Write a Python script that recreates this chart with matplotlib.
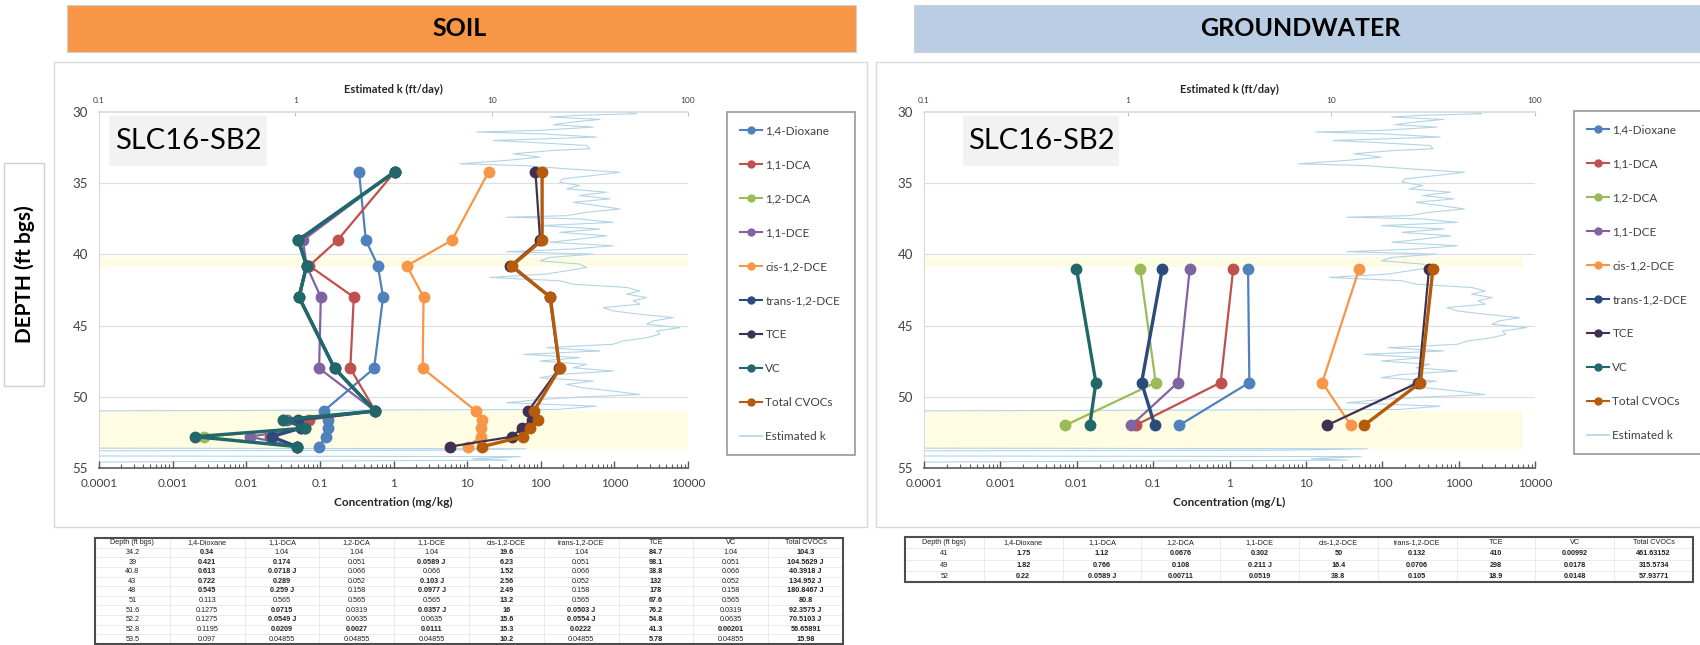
import matplotlib.pyplot as plt
from matplotlib.lines import Line2D
from matplotlib.patches import Rectangle
from matplotlib.ticker import LogLocator, FixedLocator, FixedFormatter, NullFormatter

plt.rcParams['font.family'] = ['Lato', 'DejaVu Sans']

# ---- data ----
analytes = ['1,4-Dioxane', '1,1-DCA', '1,2-DCA', '1,1-DCE', 'cis-1,2-DCE',
            'trans-1,2-DCE', 'TCE', 'VC', 'Total CVOCs']
colors = ['#4F81BD', '#C0504D', '#9BBB59', '#8064A2', '#F79646',
          '#2A4B7C', '#403152', '#22686B', '#B65A0C']
k_color = '#B2D4E6'

soil_depth = ['34.2', '39', '40.8', '43', '48', '51', '51.6', '52.2', '52.8', '53.5']
soil_dioxane = ['0.34', '0.421', '0.613', '0.722', '0.545', '0.113', '0.1275', '0.1275', '0.1195', '0.097']
soil_dca11 = ['1.04', '0.174', '0.0718 J', '0.289', '0.259 J', '0.565', '0.0715', '0.0549 J', '0.0209', '0.04855']
soil_dca12 = ['1.04', '0.051', '0.066', '0.052', '0.158', '0.565', '0.0319', '0.0635', '0.0027', '0.04855']
soil_dce11 = ['1.04', '0.0589 J', '0.066', '0.103 J', '0.0977 J', '0.565', '0.0357 J', '0.0635', '0.0111', '0.04855']
soil_cis = ['19.6', '6.23', '1.52', '2.56', '2.49', '13.2', '16', '15.6', '15.3', '10.2']
soil_trans = ['1.04', '0.051', '0.066', '0.052', '0.158', '0.565', '0.0503 J', '0.0554 J', '0.0222', '0.04855']
soil_tce = ['84.7', '98.1', '38.8', '132', '178', '67.6', '76.2', '54.8', '41.3', '5.78']
soil_vc = ['1.04', '0.051', '0.066', '0.052', '0.158', '0.565', '0.0319', '0.0635', '0.00201', '0.04855']
soil_total = ['104.3', '104.5629 J', '40.3918 J', '134.952 J', '180.8467 J', '80.8', '92.3575 J',
              '70.5103 J', '56.65891', '15.98']
# detected values (bold in the table), one flag per analyte column
soil_detect = ['100010101', '110110101', '110010101', '110110101', '110110101',
               '000010101', '010111101', '010011101', '011111111', '000010101']

gw_depth = ['41', '49', '52']
gw_dioxane = ['1.75', '1.82', '0.22']
gw_dca11 = ['1.12', '0.766', '0.0589 J']
gw_dca12 = ['0.0676', '0.108', '0.00711']
gw_dce11 = ['0.302', '0.211 J', '0.0519']
gw_cis = ['50', '16.4', '38.8']
gw_trans = ['0.132', '0.0706', '0.105']
gw_tce = ['410', '298', '18.9']
gw_vc = ['0.00992', '0.0178', '0.0148']
gw_total = ['461.63152', '315.5734', '57.93771']
gw_detect = ['111111111', '111111111', '111111111']

# estimated hydraulic conductivity profile (ft/day)
k_depth = [30.0, 30.12, 30.23, 30.35, 30.52, 30.7, 30.89, 31.06, 31.29, 31.41, 31.53, 31.76,
           32.0, 32.11, 32.35, 32.58, 32.7, 32.93, 33.17, 33.4, 33.64, 33.76, 33.99, 34.23,
           34.46, 34.69, 34.93, 35.16, 35.4, 35.63, 35.87, 36.1, 36.34, 36.57, 36.81, 37.04,
           37.28, 37.39, 37.51, 37.75, 37.98, 38.22, 38.45, 38.69, 38.92, 39.15, 39.39, 39.62,
           39.81, 39.98, 40.21, 40.45, 40.68, 40.92, 41.15, 41.38, 41.62, 41.85, 42.09, 42.32,
           42.56, 42.79, 43.03, 43.26, 43.5, 43.73, 43.97, 44.2, 44.44, 44.67, 44.91, 45.14,
           45.38, 45.61, 45.85, 46.08, 46.31, 46.55, 46.78, 47.02, 47.25, 47.49, 47.72, 47.96,
           48.19, 48.43, 48.66, 48.9, 49.13, 49.37, 49.6, 49.84, 50.02, 50.19, 50.42, 50.66,
           50.89, 51.0, 53.6, 53.65, 53.75, 53.8, 54.15, 54.2, 54.35, 54.45, 54.6, 54.9]
k_value = [48.7, 54.7, 28.1, 19.8, 35.6, 26.0, 20.6, 32.9, 17.6, 8.4, 17.6, 34.2,
           10.2, 15.0, 30.4, 31.6, 20.6, 12.9, 17.6, 11.9, 6.9, 14.5, 24.1, 45.0,
           32.9, 23.1, 22.2, 28.1, 24.1, 38.5, 28.1, 40.0, 26.0, 34.2, 45.0, 30.4,
           24.1, 11.9, 28.1, 41.6, 17.6, 35.6, 22.2, 38.5, 28.1, 19.8, 41.6, 26.0,
           11.9, 32.9, 19.8, 17.6, 28.1, 30.4, 24.1, 19.0, 9.8, 22.2, 26.0, 48.7,
           56.9, 48.7, 61.5, 52.6, 56.9, 37.0, 41.6, 56.9, 84.1, 66.5, 61.5, 91.0,
           69.2, 71.9, 61.5, 46.8, 41.6, 19.0, 35.6, 14.5, 28.1, 17.6, 30.4, 26.0,
           41.6, 22.2, 17.6, 32.9, 24.1, 29.2, 41.6, 56.9, 28.1, 17.6, 11.9, 34.2,
           21.4, 0.05, 0.05, 15.0, 6.0, 0.05, 0.05, 14.0, 8.0, 12.0, 0.05, 0.05]

bands = [(40.15, 40.9), (51.0, 53.65)]

soil_cols = [soil_dioxane, soil_dca11, soil_dca12, soil_dce11, soil_cis,
             soil_trans, soil_tce, soil_vc, soil_total]
gw_cols = [gw_dioxane, gw_dca11, gw_dca12, gw_dce11, gw_cis,
           gw_trans, gw_tce, gw_vc, gw_total]

W, H = 1700, 645


def fx(px):
    return px / W


def fy(py):
    return 1 - py / H


def frect(x0, y0, x1, y1):
    return [fx(x0), fy(y1), fx(x1) - fx(x0), fy(y0) - fy(y1)]


def num(s):
    return float(s.split()[0])


fig = plt.figure(figsize=(W / 100, H / 100), dpi=100)
fig.patch.set_facecolor('white')

# headers
for (x0, x1, xc, col, txt) in [(67, 856, 460, '#F79646', 'SOIL'),
                               (914, 1710, 1300, '#B9CDE5', 'GROUNDWATER')]:
    fig.add_artist(Rectangle((fx(x0), fy(52)), fx(x1) - fx(x0), fy(5) - fy(52),
                             transform=fig.transFigure, fc=col, ec='#D0D0D0', lw=0.8))
    fig.text(fx(xc), fy(29), txt, ha='center', va='center', fontsize=18,
             fontweight='bold', color='black')

# panel frames
for (x0, x1) in [(54, 867), (876, 1710)]:
    fig.add_artist(Rectangle((fx(x0), fy(527)), fx(x1) - fx(x0), fy(62) - fy(527),
                             transform=fig.transFigure, fc='none', ec='#D9D9D9', lw=1))

# depth label box
fig.add_artist(Rectangle((fx(4), fy(386)), fx(44) - fx(4), fy(163) - fy(386),
                         transform=fig.transFigure, fc='white', ec='#D0D0D0', lw=1))
fig.text(fx(25), fy(274), 'DEPTH (ft bgs)', rotation=90, ha='center', va='center',
         fontsize=15, fontweight='bold', color='black')


def draw_chart(rect, depth, cols, unit, box_x, legend_rect, band_xmax):
    ax = fig.add_axes(rect)
    axk = ax.twiny()
    # k axis sits behind the concentration series
    axk.set_zorder(ax.get_zorder() - 1)
    ax.patch.set_visible(False)
    axk.patch.set_facecolor('white')

    d = [float(v) for v in depth]
    for lo, hi in bands:
        axk.axhspan(lo, hi, xmax=band_xmax, color='#FEFDE3', zorder=0.5, lw=0)
    axk.plot(k_value, k_depth, color=k_color, lw=0.8, zorder=2)
    axk.set_xscale('log')
    axk.set_xlim(0.1, 100)
    axk.xaxis.set_major_locator(FixedLocator([0.1, 1, 10, 100]))
    axk.xaxis.set_major_formatter(FixedFormatter(['0.1', '1', '10', '100']))
    axk.xaxis.set_minor_locator(FixedLocator([]))
    axk.tick_params(axis='x', which='major', direction='in', length=3, color='#BFBFBF',
                    labelsize=6, labelcolor='#404040', pad=6)
    axk.set_xlabel('Estimated k (ft/day)', fontsize=8, fontweight='bold', color='#262626', labelpad=3)

    for i, (vals, c) in enumerate(zip(cols, colors)):
        lw = 2.4 if analytes[i] in ('trans-1,2-DCE', 'VC', 'Total CVOCs') else 1.6
        ax.plot([num(v) for v in vals], d, '-o', color=c, lw=lw, ms=7.5,
                zorder=3 + i)

    ax.set_xscale('log')
    ax.set_xlim(1e-4, 1e4)
    ax.set_ylim(55, 30)
    ax.set_yticks([30, 35, 40, 45, 50, 55])
    ax.xaxis.set_minor_locator(LogLocator(base=10, subs=range(2, 10), numticks=20))
    ax.xaxis.set_minor_formatter(NullFormatter())
    ax.set_xticks([1e-4, 1e-3, 1e-2, 0.1, 1, 10, 100, 1000, 1e4])
    ax.set_xticklabels(['0.0001', '0.001', '0.01', '0.1', '1', '10', '100', '1000', '10000'])
    ax.tick_params(axis='x', which='major', direction='in', length=5, width=1,
                   color='#595959', labelsize=8.5, labelcolor='#404040', pad=7)
    ax.tick_params(axis='x', which='minor', direction='in', length=3, width=0.8, color='#595959')
    ax.tick_params(axis='y', length=0, labelsize=9.5, labelcolor='#404040', pad=8)
    ax.set_xlabel('Concentration (' + unit + ')', fontsize=8.5, fontweight='bold',
                  color='#262626', labelpad=6)
    for y in [35, 40, 45, 50]:
        axk.axhline(y, color='#E0E0E0', lw=0.9, zorder=1)
    for a in (ax, axk):
        for s in a.spines.values():
            s.set_visible(False)
    ax.spines['bottom'].set_visible(True)
    ax.spines['bottom'].set_color('#595959')
    ax.spines['bottom'].set_linewidth(1.2)
    axk.spines['left'].set_visible(True)
    axk.spines['left'].set_color('#D9D9D9')
    axk.spines['top'].set_visible(True)
    axk.spines['top'].set_color('#D9D9D9')
    axk.spines['top'].set_linewidth(1.2)

    ax.add_patch(Rectangle((box_x[0], 0.848), box_x[1] - box_x[0], 0.14, transform=ax.transAxes,
                           fc='#F2F2F2', ec='none', zorder=2))
    ax.text((box_x[0] + box_x[1]) / 2, 0.918, 'SLC16-SB2', transform=ax.transAxes,
            ha='center', va='center', fontsize=21, color='black', zorder=20)

    handles = [Line2D([], [], color=c, marker='o', ms=5, lw=1.5) for c in colors]
    handles.append(Line2D([], [], color=k_color, lw=1.2))
    leg = fig.legend(handles, analytes + ['Estimated k'], loc='upper left',
                     bbox_to_anchor=legend_rect, mode='expand', borderaxespad=0,
                     fontsize=8.5, labelspacing=1.95, handlelength=1.9, handletextpad=0.25,
                     borderpad=1.1, fancybox=False, frameon=True)
    leg.get_frame().set_edgecolor('#7F7F7F')
    leg.get_frame().set_linewidth(1.2)
    for t in leg.get_texts():
        t.set_color('#404040')
    return ax


draw_chart(frect(99, 112, 688, 468), soil_depth, soil_cols, 'mg/kg', (0.017, 0.285),
           (fx(727), fy(112), fx(855) - fx(727), 0), 1.0)
draw_chart(frect(924, 112, 1535, 468), gw_depth, gw_cols, 'mg/L', (0.064, 0.319),
           (fx(1574), fy(111), fx(1745) - fx(1574), 0), 0.98)


def draw_table(rect, depth, cols, detect):
    tax = fig.add_axes(rect)
    tax.axis('off')
    header = ['Depth (ft bgs)'] + analytes
    rows = [[depth[r]] + [c[r] for c in cols] for r in range(len(depth))]
    tbl = tax.table(cellText=[header] + rows, bbox=[0, 0, 1, 1], cellLoc='center')
    tbl.auto_set_font_size(False)
    tbl.set_fontsize(5.2)
    for (r, c), cell in tbl.get_celld().items():
        cell.set_edgecolor('#E3E3E3')
        cell.set_linewidth(0.4)
        txt = cell.get_text()
        txt.set_color('#202020')
        txt.set_fontfamily(['Liberation Sans', 'DejaVu Sans'])
        if r > 0 and c > 0 and detect[r - 1][c - 1] == '1':
            txt.set_fontweight('bold')
    tax.add_patch(Rectangle((0, 0), 1, 1, transform=tax.transAxes, fill=False,
                            ec='#4D4D4D', lw=1.5, clip_on=False))


draw_table(frect(95, 538, 843, 644), soil_depth, soil_cols, soil_detect)
draw_table(frect(905, 537, 1693, 582), gw_depth, gw_cols, gw_detect)

fig.savefig('out.png', dpi=100)
